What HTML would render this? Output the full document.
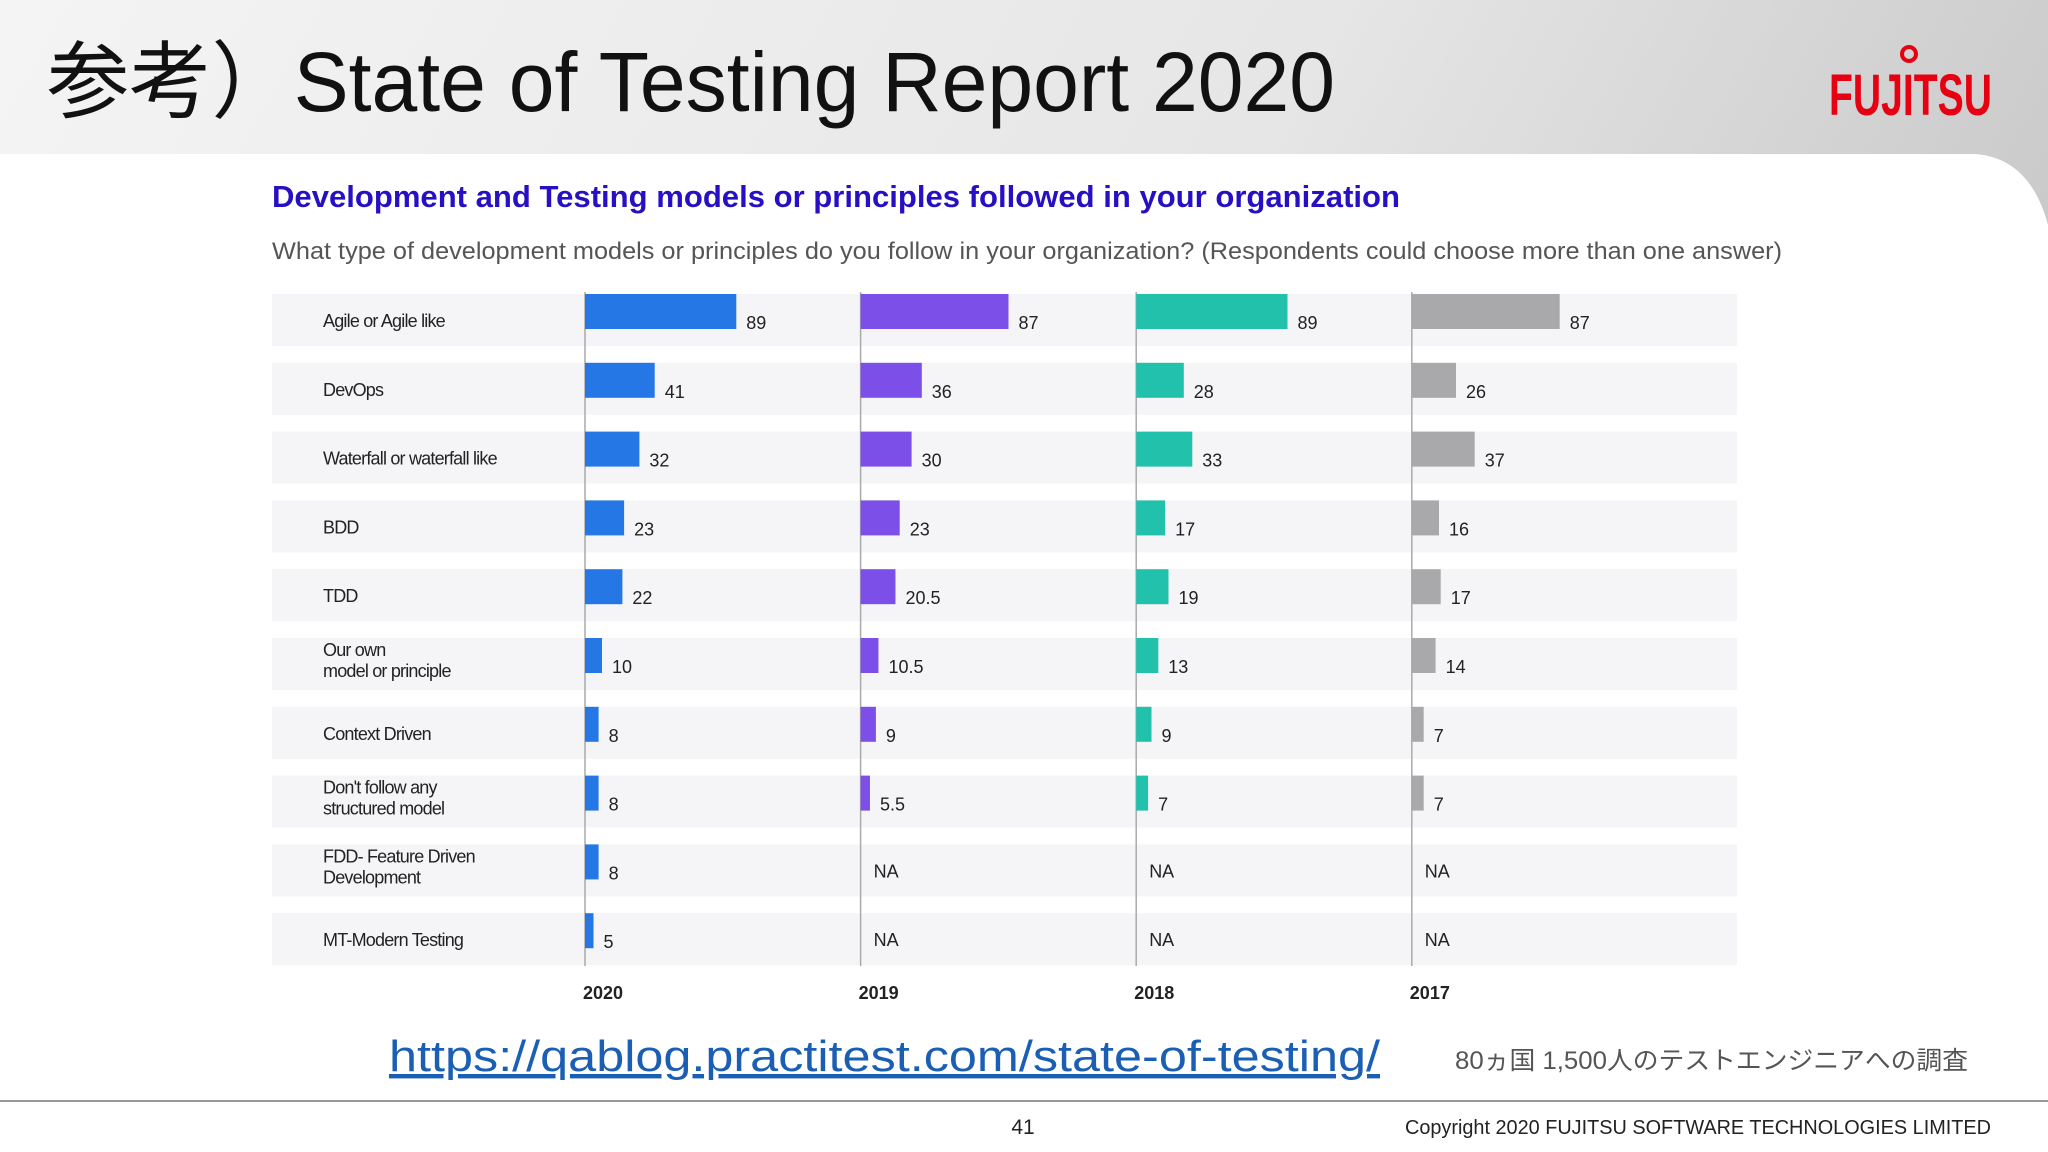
<!DOCTYPE html>
<html><head><meta charset="utf-8"><style>
html,body{margin:0;padding:0;width:2048px;height:1152px;overflow:hidden;background:#fff}
svg{display:block}
</style></head><body>
<svg id="chart" width="2048" height="1152" viewBox="0 0 2048 1152" xmlns="http://www.w3.org/2000/svg" font-family="'Liberation Sans','Noto Sans CJK JP',sans-serif">
<defs>
<linearGradient id="hdr" x1="0" y1="0" x2="1" y2="0.3">
<stop offset="0" stop-color="#f4f4f4"/><stop offset="0.6" stop-color="#e6e6e6"/><stop offset="1" stop-color="#c8c8c8"/>
</linearGradient>
</defs>
<rect x="0" y="0" width="2048" height="1100" fill="url(#hdr)"/>
<path d="M0 154 L1975 154 Q2030 158 2048 225 L2048 1152 L0 1152 Z" fill="#fff"/>
<text x="47" y="111" font-size="84" fill="#111" textLength="1288" lengthAdjust="spacingAndGlyphs">参考）State of Testing Report 2020</text>
<g>
<text x="1829" y="115" font-size="58" font-weight="bold" fill="#e60012" textLength="163" lengthAdjust="spacingAndGlyphs">FUJITSU</text>
<circle cx="1909" cy="54" r="7" fill="none" stroke="#e60012" stroke-width="4"/>
</g>
<text x="272" y="207" font-size="31" font-weight="bold" fill="#2710c4" textLength="1128" lengthAdjust="spacingAndGlyphs">Development and Testing models or principles followed in your organization</text>
<text x="272" y="259" font-size="24" fill="#555" textLength="1510" lengthAdjust="spacingAndGlyphs">What type of development models or principles do you follow in your organization? (Respondents could choose more than one answer)</text>
<g id="plot"></g>
<text x="389" y="1071" font-size="44" fill="#1a5fb4" text-decoration="underline" textLength="991" lengthAdjust="spacingAndGlyphs">https://qablog.practitest.com/state-of-testing/</text>
<text x="1455" y="1069" font-size="25" fill="#555" textLength="513" lengthAdjust="spacingAndGlyphs">80ヵ国 1,500人のテストエンジニアへの調査</text>
<line x1="0" y1="1101" x2="2048" y2="1101" stroke="#999" stroke-width="2"/>
<text x="1023" y="1134" font-size="21" fill="#222" text-anchor="middle">41</text>
<text x="1991" y="1134" font-size="20" fill="#222" text-anchor="end" textLength="586" lengthAdjust="spacingAndGlyphs">Copyright 2020 FUJITSU SOFTWARE TECHNOLOGIES LIMITED</text>
</svg>
<script>
const categories = [["Agile or Agile like"],["DevOps"],["Waterfall or waterfall like"],["BDD"],["TDD"],["Our own","model or principle"],["Context Driven"],["Don't follow any","structured model"],["FDD- Feature Driven","Development"],["MT-Modern Testing"]];
const years = ["2020","2019","2018","2017"];
const values2020 = [89,41,32,23,22,10,8,8,8,5];
const values2019 = [87,36,30,23,20.5,10.5,9,5.5,null,null];
const values2018 = [89,28,33,17,19,13,9,7,null,null];
const values2017 = [87,26,37,16,17,14,7,7,null,null];
const series = [values2020, values2019, values2018, values2017];
const colors = ["#2577e6","#7b4fe8","#22c1ab","#a9a9ac"];

const NS = "http://www.w3.org/2000/svg";
const plot = document.getElementById('plot');
const rowTop = i => 294 + i * 68.8;
const colX = j => 585 + j * 275.6;
const xLen = v => v * 1.70;
function mk(tag, attrs){const e=document.createElementNS(NS,tag);for(const k in attrs)e.setAttribute(k,attrs[k]);plot.appendChild(e);return e;}

categories.forEach((lines,i)=>{
  const band = mk('rect',{x:272,y:rowTop(i),width:1465,height:52,fill:'#f5f5f7'});
  
  
  const t = mk('text',{x:323,'font-size':18,fill:'#222','letter-spacing':'-0.8'});
  
  
  lines.forEach((ln,k)=>{
    const ts=document.createElementNS(NS,'tspan');
    ts.setAttribute('x',323);
    const y = lines.length===1 ? rowTop(i)+33 : rowTop(i)+18+k*21;
    ts.setAttribute('y',y);
    ts.textContent=ln; t.appendChild(ts);
  });
});
years.forEach((yr,j)=>{
  const ax = mk('line',{x1:colX(j),y1:292,x2:colX(j),y2:966,stroke:'#aaa','stroke-width':1.5});
  
  
  const yl = mk('text',{x:colX(j)-2,y:999,'font-size':18,'font-weight':'bold',fill:'#222'});
  
  
  yl.textContent=yr;
  series[j].forEach((v,i)=>{
    if(v===null){
      const na = mk('text',{x:colX(j)+13,y:rowTop(i)+33,'font-size':18,fill:'#222'});
      
      
      na.textContent='NA';
      return;
    }
    const b = mk('rect',{x:colX(j),y:rowTop(i),width:xLen(v),height:35,fill:colors[j]});
    
    
    const lb = mk('text',{x:colX(j)+xLen(v)+10,y:rowTop(i)+35,'font-size':18,fill:'#222'});
    
    
    lb.textContent=String(v);
  });
});
</script>
</body></html>
